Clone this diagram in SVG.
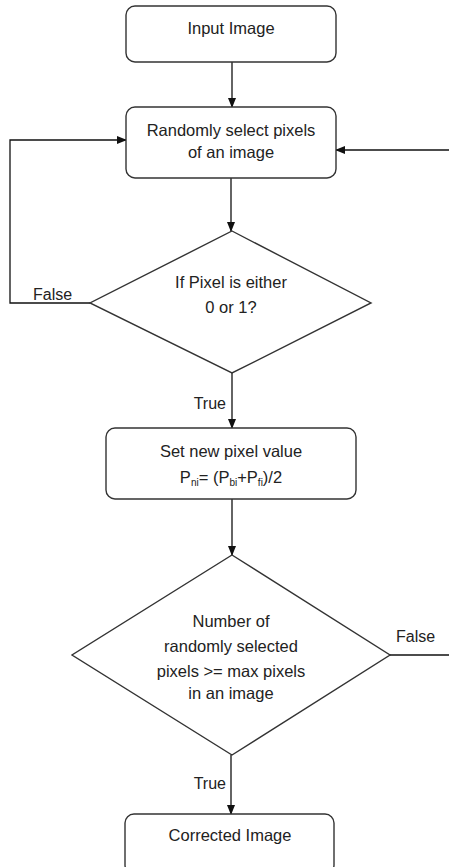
<svg xmlns="http://www.w3.org/2000/svg" width="449" height="867" viewBox="0 0 449 867">
<style>
.node{fill:#fff;stroke:#333;stroke-width:1.4}
.t{font-family:"Liberation Sans",Arial,sans-serif;font-size:16.5px;fill:#222;text-anchor:middle}
.l{font-family:"Liberation Sans",Arial,sans-serif;font-size:16px;fill:#222}
.c{fill:none;stroke:#111;stroke-width:1.3}
.sub{font-size:10px}
</style>
<defs>
<marker id="ah" markerWidth="10" markerHeight="8" refX="9" refY="4" orient="auto" markerUnits="userSpaceOnUse">
<path d="M0,0 L10,4 L0,8 Z" fill="#111"/>
</marker>
</defs>
<rect width="449" height="867" fill="#fff"/>
<g id="connectors">
<line class="c" x1="232" y1="62" x2="232" y2="107" marker-end="url(#ah)"/>
<line class="c" x1="231" y1="178" x2="231" y2="231" marker-end="url(#ah)"/>
<polyline class="c" points="90,303 10,303 10,140 126,140" marker-end="url(#ah)"/>
<line class="c" x1="449" y1="150" x2="336" y2="150" marker-end="url(#ah)"/>
<line class="c" x1="232" y1="373" x2="232" y2="428" marker-end="url(#ah)"/>
<line class="c" x1="232" y1="499" x2="232" y2="555" marker-end="url(#ah)"/>
<line class="c" x1="390" y1="655" x2="449" y2="655"/>
<line class="c" x1="231" y1="755" x2="231" y2="814" marker-end="url(#ah)"/>
<text class="l" x="33" y="300">False</text>
<text class="l" x="226" y="409" text-anchor="end">True</text>
<text class="l" x="396" y="642">False</text>
<text class="l" x="226" y="789" text-anchor="end">True</text>
</g>
<g id="input">
<rect class="node" x="126" y="6" width="210" height="56" rx="9"/>
<text class="t" x="231" y="34">Input Image</text>
</g>
<g id="select">
<rect class="node" x="126" y="107" width="210" height="71" rx="9"/>
<text class="t" x="231" y="136">Randomly select pixels</text>
<text class="t" x="231" y="158">of an image</text>
</g>
<g id="decision1">
<polygon class="node" points="232,231 371,303 232,373 90,303"/>
<text class="t" x="231" y="288">If Pixel is either</text>
<text class="t" x="231" y="313">0 or 1?</text>
</g>
<g id="setvalue">
<rect class="node" x="106" y="428" width="250" height="71" rx="9"/>
<text class="t" x="231" y="457">Set new pixel value</text>
<text class="t" x="231" y="483">P<tspan class="sub" dy="3">ni</tspan><tspan dy="-3">= (P</tspan><tspan class="sub" dy="3">bi</tspan><tspan dy="-3">+P</tspan><tspan class="sub" dy="3">fi</tspan><tspan dy="-3">)/2</tspan></text>
</g>
<g id="decision2">
<polygon class="node" points="232,555 390,655 232,755 72,655"/>
<text class="t" x="231" y="627">Number of</text>
<text class="t" x="231" y="652">randomly selected</text>
<text class="t" x="231" y="677">pixels &gt;= max pixels</text>
<text class="t" x="231" y="699">in an image</text>
</g>
<g id="corrected">
<rect class="node" x="125" y="814" width="209" height="60" rx="9"/>
<text class="t" x="230" y="841">Corrected Image</text>
</g>
</svg>
